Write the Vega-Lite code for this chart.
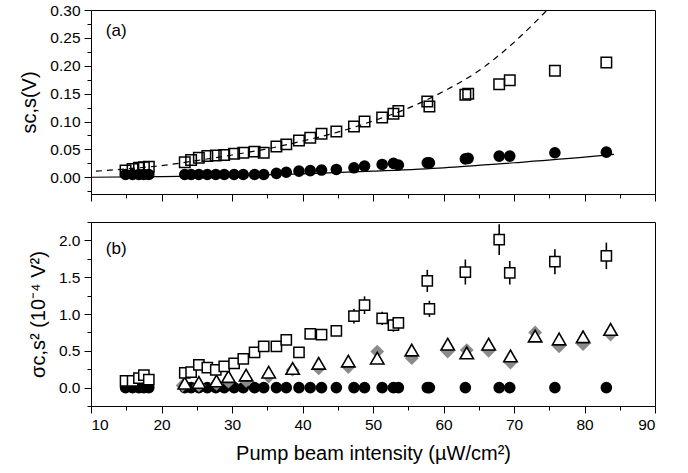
{
  "$schema": "https://vega.github.io/schema/vega-lite/v6.json",
  "padding": {"left": 19, "top": 2, "right": 5, "bottom": 5},
  "spacing": 19,
  "background": "white",
  "config": {
    "font": "Liberation Sans",
    "view": {"stroke": "black", "strokeWidth": 1},
    "axis": {
      "grid": false,
      "labelFont": "Liberation Sans",
      "labelFontSize": 15.5,
      "labelColor": "black",
      "labelPadding": 4,
      "tickColor": "black",
      "domainColor": "black",
      "titleFont": "Liberation Sans",
      "titleFontSize": 20,
      "titleFontWeight": "normal",
      "titleColor": "black"
    }
  },
  "datasets": {
    "topSq": [
      {"x": 14.9, "y": 0.012}, {"x": 15.9, "y": 0.015}, {"x": 16.8, "y": 0.017}, {"x": 17.5, "y": 0.018}, {"x": 18.2, "y": 0.019},
      {"x": 23.3, "y": 0.027}, {"x": 24.2, "y": 0.031}, {"x": 25.3, "y": 0.035}, {"x": 26.5, "y": 0.038}, {"x": 27.7, "y": 0.039},
      {"x": 28.9, "y": 0.040}, {"x": 30.3, "y": 0.042}, {"x": 31.6, "y": 0.044}, {"x": 33.2, "y": 0.046}, {"x": 34.5, "y": 0.044},
      {"x": 36.3, "y": 0.055}, {"x": 37.7, "y": 0.059}, {"x": 39.5, "y": 0.066}, {"x": 41.1, "y": 0.071}, {"x": 42.7, "y": 0.078},
      {"x": 44.8, "y": 0.082}, {"x": 47.3, "y": 0.091}, {"x": 48.8, "y": 0.100}, {"x": 51.3, "y": 0.107}, {"x": 52.9, "y": 0.114},
      {"x": 53.6, "y": 0.119}, {"x": 57.7, "y": 0.136}, {"x": 58.0, "y": 0.127}, {"x": 63.1, "y": 0.148}, {"x": 63.5, "y": 0.150},
      {"x": 67.9, "y": 0.167}, {"x": 69.4, "y": 0.174}, {"x": 75.8, "y": 0.191}, {"x": 83.1, "y": 0.206}
    ],
    "topCi": [
      {"x": 14.9, "y": 0.005}, {"x": 15.9, "y": 0.005}, {"x": 16.8, "y": 0.005}, {"x": 17.5, "y": 0.005}, {"x": 18.2, "y": 0.005},
      {"x": 23.3, "y": 0.005}, {"x": 24.2, "y": 0.005}, {"x": 25.3, "y": 0.005}, {"x": 26.5, "y": 0.005}, {"x": 27.7, "y": 0.005},
      {"x": 28.9, "y": 0.005}, {"x": 30.3, "y": 0.005}, {"x": 31.6, "y": 0.005}, {"x": 33.2, "y": 0.005}, {"x": 34.5, "y": 0.005},
      {"x": 36.3, "y": 0.007}, {"x": 37.7, "y": 0.009}, {"x": 39.5, "y": 0.011}, {"x": 41.1, "y": 0.012}, {"x": 42.7, "y": 0.013},
      {"x": 44.8, "y": 0.014}, {"x": 47.3, "y": 0.017}, {"x": 48.8, "y": 0.020}, {"x": 51.3, "y": 0.023}, {"x": 52.9, "y": 0.025},
      {"x": 53.6, "y": 0.022}, {"x": 57.7, "y": 0.026}, {"x": 58.0, "y": 0.026}, {"x": 63.1, "y": 0.033}, {"x": 63.5, "y": 0.034},
      {"x": 67.9, "y": 0.038}, {"x": 69.4, "y": 0.038}, {"x": 75.8, "y": 0.044}, {"x": 83.1, "y": 0.045}
    ],
    "fitDash": [
      {"x": 10.7, "y": 0.011}, {"x": 15, "y": 0.015}, {"x": 20, "y": 0.021}, {"x": 25, "y": 0.030}, {"x": 30, "y": 0.040},
      {"x": 35, "y": 0.051}, {"x": 40, "y": 0.065}, {"x": 45, "y": 0.081}, {"x": 50, "y": 0.101}, {"x": 55, "y": 0.124},
      {"x": 60, "y": 0.154}, {"x": 65, "y": 0.191}, {"x": 70, "y": 0.242}, {"x": 74.7, "y": 0.300}
    ],
    "fitSolid": [
      {"x": 10, "y": 0.0}, {"x": 20, "y": 0.001}, {"x": 30, "y": 0.003}, {"x": 40, "y": 0.006}, {"x": 50, "y": 0.011},
      {"x": 60, "y": 0.017}, {"x": 70, "y": 0.026}, {"x": 80, "y": 0.036}, {"x": 84.2, "y": 0.041}
    ],
    "botSq": [
      {"x": 14.9, "y": 0.09, "e": 0.04}, {"x": 15.9, "y": 0.09, "e": 0.04}, {"x": 16.8, "y": 0.13, "e": 0.04}, {"x": 17.5, "y": 0.17, "e": 0.04}, {"x": 18.2, "y": 0.11, "e": 0.04},
      {"x": 23.3, "y": 0.20, "e": 0.05}, {"x": 24.2, "y": 0.21, "e": 0.05}, {"x": 25.3, "y": 0.31, "e": 0.05}, {"x": 26.5, "y": 0.27, "e": 0.05}, {"x": 27.7, "y": 0.24, "e": 0.05},
      {"x": 28.9, "y": 0.29, "e": 0.05}, {"x": 30.3, "y": 0.33, "e": 0.05}, {"x": 31.6, "y": 0.39, "e": 0.05}, {"x": 33.2, "y": 0.48, "e": 0.05}, {"x": 34.5, "y": 0.56, "e": 0.05},
      {"x": 36.3, "y": 0.56, "e": 0.05}, {"x": 37.7, "y": 0.65, "e": 0.06}, {"x": 39.5, "y": 0.48, "e": 0.06}, {"x": 41.1, "y": 0.73, "e": 0.06}, {"x": 42.7, "y": 0.72, "e": 0.06},
      {"x": 44.8, "y": 0.77, "e": 0.07}, {"x": 47.3, "y": 0.97, "e": 0.10}, {"x": 48.8, "y": 1.12, "e": 0.12}, {"x": 51.3, "y": 0.94, "e": 0.09}, {"x": 52.9, "y": 0.85, "e": 0.09},
      {"x": 53.6, "y": 0.88, "e": 0.07}, {"x": 57.7, "y": 1.45, "e": 0.15}, {"x": 58.0, "y": 1.07, "e": 0.11}, {"x": 63.1, "y": 1.57, "e": 0.17}, {"x": 67.9, "y": 2.01, "e": 0.21},
      {"x": 69.4, "y": 1.56, "e": 0.16}, {"x": 75.8, "y": 1.71, "e": 0.17}, {"x": 83.1, "y": 1.79, "e": 0.18}
    ],
    "botTri": [
      {"x": 23.3, "y": 0.06}, {"x": 25.3, "y": 0.07}, {"x": 27.8, "y": 0.09}, {"x": 29.5, "y": 0.15}, {"x": 32.0, "y": 0.17},
      {"x": 35.2, "y": 0.21}, {"x": 38.6, "y": 0.26}, {"x": 42.3, "y": 0.33}, {"x": 46.5, "y": 0.36}, {"x": 50.6, "y": 0.40},
      {"x": 55.5, "y": 0.51}, {"x": 60.6, "y": 0.59}, {"x": 63.3, "y": 0.47}, {"x": 66.4, "y": 0.59}, {"x": 69.5, "y": 0.43},
      {"x": 73.0, "y": 0.70}, {"x": 76.4, "y": 0.66}, {"x": 79.8, "y": 0.69}, {"x": 83.7, "y": 0.79}
    ],
    "botDia": [
      {"x": 23.0, "y": 0.03}, {"x": 25.3, "y": 0.03}, {"x": 27.8, "y": 0.05}, {"x": 29.5, "y": 0.08}, {"x": 32.0, "y": 0.09},
      {"x": 35.2, "y": 0.15}, {"x": 38.6, "y": 0.24}, {"x": 42.3, "y": 0.26}, {"x": 46.5, "y": 0.28}, {"x": 50.6, "y": 0.49},
      {"x": 55.5, "y": 0.40}, {"x": 60.6, "y": 0.49}, {"x": 63.3, "y": 0.51}, {"x": 66.4, "y": 0.50}, {"x": 69.5, "y": 0.34},
      {"x": 73.0, "y": 0.75}, {"x": 76.4, "y": 0.56}, {"x": 79.8, "y": 0.59}, {"x": 83.7, "y": 0.72}
    ],
    "botCi": [
      {"x": 14.9, "y": 0}, {"x": 15.9, "y": 0}, {"x": 16.8, "y": 0}, {"x": 17.5, "y": 0}, {"x": 18.2, "y": 0},
      {"x": 23.3, "y": 0}, {"x": 24.2, "y": 0}, {"x": 25.3, "y": 0}, {"x": 26.5, "y": 0}, {"x": 27.7, "y": 0},
      {"x": 28.9, "y": 0}, {"x": 30.3, "y": 0}, {"x": 31.6, "y": 0}, {"x": 33.2, "y": 0}, {"x": 34.5, "y": 0},
      {"x": 36.3, "y": 0}, {"x": 37.7, "y": 0}, {"x": 39.5, "y": 0}, {"x": 41.1, "y": 0}, {"x": 42.7, "y": 0},
      {"x": 44.8, "y": 0}, {"x": 47.3, "y": 0}, {"x": 48.8, "y": 0}, {"x": 51.3, "y": 0}, {"x": 52.9, "y": 0},
      {"x": 53.6, "y": 0}, {"x": 57.7, "y": 0}, {"x": 58.0, "y": 0}, {"x": 63.1, "y": 0}, {"x": 67.9, "y": 0},
      {"x": 69.4, "y": 0}, {"x": 75.8, "y": 0}, {"x": 83.1, "y": 0}
    ],
    "labA": [{"x": 12.1, "y": 0.262, "t": "(a)"}],
    "labB": [{"x": 12.1, "y": 1.88, "t": "(b)"}]
  },
  "vconcat": [
    {
      "width": 564,
      "height": 184,
      "encoding": {
        "x": {"field": "x", "type": "quantitative",
          "scale": {"domain": [10, 90], "nice": false, "zero": false},
          "axis": {"title": null, "labels": false,
            "values": [10, 15, 20, 25, 30, 35, 40, 45, 50, 55, 60, 65, 70, 75, 80, 85, 90],
            "tickSize": {"condition": {"test": "datum.value % 10 === 0", "value": 7}, "value": 4}}},
        "y": {"field": "y", "type": "quantitative",
          "scale": {"domain": [-0.03, 0.30], "nice": false, "zero": false},
          "axis": {"title": "sc,s(V)", "titlePadding": 10,
            "values": [-0.025, 0, 0.025, 0.05, 0.075, 0.1, 0.125, 0.15, 0.175, 0.2, 0.225, 0.25, 0.275, 0.3],
            "labelExpr": "abs(datum.value*20 - round(datum.value*20)) < 0.001 ? format(datum.value, '.2f') : ''",
            "tickSize": {"condition": {"test": "abs(datum.value*20 - round(datum.value*20)) < 0.001", "value": 7}, "value": 4}}}
      },
      "layer": [
        {"data": {"name": "fitSolid"}, "mark": {"type": "line", "color": "black", "strokeWidth": 1.2, "interpolate": "monotone", "clip": true}},
        {"data": {"name": "fitDash"}, "mark": {"type": "line", "color": "black", "strokeWidth": 1.2, "strokeDash": [6, 5], "interpolate": "monotone", "clip": true}},
        {"data": {"name": "topCi"}, "mark": {"type": "point", "shape": "circle", "filled": true, "color": "black", "size": 135, "opacity": 1}},
        {"data": {"name": "topSq"}, "mark": {"type": "point", "shape": "square", "filled": false, "color": "black", "size": 110, "strokeWidth": 1.5, "opacity": 1}},
        {"data": {"name": "labA"}, "mark": {"type": "text", "align": "left", "baseline": "middle", "fontSize": 17, "color": "black", "font": "Liberation Sans"},
          "encoding": {"text": {"field": "t"}}}
      ]
    },
    {
      "width": 564,
      "height": 184,
      "encoding": {
        "x": {"field": "x", "type": "quantitative",
          "scale": {"domain": [10, 90], "nice": false, "zero": false},
          "axis": {"title": "Pump beam intensity (µW/cm²)", "titlePadding": 11,
            "values": [10, 15, 20, 25, 30, 35, 40, 45, 50, 55, 60, 65, 70, 75, 80, 85, 90],
            "labelExpr": "datum.value % 10 === 0 ? datum.label : ''",
            "tickSize": {"condition": {"test": "datum.value % 10 === 0", "value": 7}, "value": 4}}},
        "y": {"field": "y", "type": "quantitative",
          "scale": {"domain": [-0.25, 2.25], "nice": false, "zero": false},
          "axis": {"title": "σc,s² (10⁻⁴ V²)", "titlePadding": 10,
            "values": [-0.25, 0, 0.25, 0.5, 0.75, 1, 1.25, 1.5, 1.75, 2, 2.25],
            "labelExpr": "abs(datum.value*2 - round(datum.value*2)) < 0.001 ? format(datum.value, '.1f') : ''",
            "tickSize": {"condition": {"test": "abs(datum.value*2 - round(datum.value*2)) < 0.001", "value": 7}, "value": 4}}}
      },
      "layer": [
        {"data": {"name": "botCi"}, "mark": {"type": "point", "shape": "circle", "filled": true, "color": "black", "size": 135, "opacity": 1}},
        {"data": {"name": "botDia"}, "mark": {"type": "point", "shape": "diamond", "filled": true, "color": "#8a8a8a", "size": 190, "opacity": 1}},
        {"data": {"name": "botTri"}, "mark": {"type": "point", "shape": "triangle-up", "filled": false, "fill": "white", "fillOpacity": 1, "stroke": "black", "size": 180, "strokeWidth": 1.6, "opacity": 1}},
        {"data": {"name": "botSq"}, "transform": [{"calculate": "datum.y - datum.e", "as": "lo"}, {"calculate": "datum.y + datum.e", "as": "hi"}],
          "mark": {"type": "rule", "color": "black", "strokeWidth": 1.6},
          "encoding": {"y": {"field": "lo", "type": "quantitative"}, "y2": {"field": "hi"}}},
        {"data": {"name": "botSq"}, "mark": {"type": "point", "shape": "square", "filled": false, "fill": "white", "fillOpacity": 1, "stroke": "black", "size": 105, "strokeWidth": 1.5, "opacity": 1}},
        {"data": {"name": "labB"}, "mark": {"type": "text", "align": "left", "baseline": "middle", "fontSize": 17, "color": "black", "font": "Liberation Sans"},
          "encoding": {"text": {"field": "t"}}}
      ]
    }
  ]
}
